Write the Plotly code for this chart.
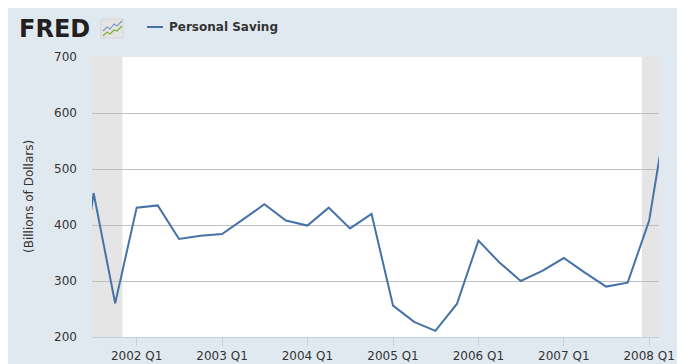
import plotly.graph_objects as go

# ---- data ----
dates = ["2001-04-01", "2001-07-01", "2001-10-01",
         "2002-01-01", "2002-04-01", "2002-07-01", "2002-10-01",
         "2003-01-01", "2003-04-01", "2003-07-01", "2003-10-01",
         "2004-01-01", "2004-04-01", "2004-07-01", "2004-10-01",
         "2005-01-01", "2005-04-01", "2005-07-01", "2005-10-01",
         "2006-01-01", "2006-04-01", "2006-07-01", "2006-10-01",
         "2007-01-01", "2007-04-01", "2007-07-01", "2007-10-01",
         "2008-01-01", "2008-04-01"]
personal_saving = [200, 457, 260,
                   431, 435, 375, 381,
                   384, 410, 437, 408,
                   399, 431, 394, 420,
                   256, 227, 211, 259,
                   372, 333, 300, 318,
                   341, 315, 290, 297,
                   408, 640]
tick_dates = ["2002-01-01", "2003-01-01", "2004-01-01", "2005-01-01",
              "2006-01-01", "2007-01-01", "2008-01-01"]
tick_labels = ["2002 Q1", "2003 Q1", "2004 Q1", "2005 Q1",
               "2006 Q1", "2007 Q1", "2008 Q1"]
recessions = [("2001-03-01", "2001-11-01"), ("2007-12-01", "2009-06-01")]
series_name = "Personal Saving"
y_title = "(Billions of Dollars)"

# page body margin offsets the figure by 8px; coordinates below are screen px
OFF = 8
W, H = 671, 356
L, R, T, B = 92, 659, 57, 337
PANEL = "#e1e9f0"
FONT = "DejaVu Sans"


def px(x):
    return (x - L) / (R - L)


def py(y):
    return (B - y) / (B - T)


fig = go.Figure()
fig.add_trace(go.Scatter(
    x=dates, y=personal_saving, mode="lines", name=series_name,
    line=dict(color="#4572a7", width=2), showlegend=False,
    hoverinfo="x+y"))

shapes = []
for s, e in recessions:
    shapes.append(dict(type="rect", xref="x", yref="paper", x0=s, x1=e,
                       y0=0, y1=1, fillcolor="#e5e5e5", line=dict(width=0),
                       layer="below"))
# logo icon
shapes.append(dict(type="rect", xref="paper", yref="paper", x0=px(101), x1=px(123),
                   y0=py(38), y1=py(19), fillcolor="#e4e4e4",
                   line=dict(color="#d6d6d6", width=1)))


def path(points):
    return "M " + " L ".join(f"{px(a)},{py(b)}" for a, b in points)


shapes.append(dict(type="path", xref="paper", yref="paper",
                   path=path([(103, 31), (107, 27), (110, 29), (114, 24),
                              (117, 26), (122, 21)]),
                   line=dict(color="#7a9cc0", width=1.2)))
shapes.append(dict(type="path", xref="paper", yref="paper",
                   path=path([(103, 36), (107, 32), (110, 34), (114, 30),
                              (117, 31), (122, 26)]),
                   line=dict(color="#7fae3c", width=1.2)))
# legend line
shapes.append(dict(type="line", xref="paper", yref="paper", x0=px(147), x1=px(163),
                   y0=py(27), y1=py(27), line=dict(color="#4572a7", width=2)))

annotations = [
    dict(text="<b>FRED</b>", x=px(17), y=py(29), xref="paper", yref="paper",
         xanchor="left", yanchor="middle", showarrow=False,
         font=dict(family=FONT, size=24, color="#231f20")),
    dict(text=f"<b>{series_name}</b>", x=px(167), y=py(27), xref="paper", yref="paper",
         xanchor="left", yanchor="middle", showarrow=False,
         font=dict(family=FONT, size=12, color="#333333")),
    dict(text=y_title, x=px(29), y=0.5, xref="paper", yref="paper",
         xanchor="center", yanchor="middle", showarrow=False, textangle=-90,
         font=dict(family=FONT, size=12, color="#333333")),
]

fig.update_layout(
    width=W, height=H,
    margin=dict(l=L - OFF, r=W - (R - OFF), t=T - OFF, b=H - (B - OFF), pad=0,
                autoexpand=False),
    paper_bgcolor=PANEL, plot_bgcolor="white",
    font=dict(family=FONT, size=12, color="#333333"),
    shapes=shapes, annotations=annotations, showlegend=False,
    xaxis=dict(type="date", range=["2001-06-24", "2008-02-12"],
               tickvals=tick_dates, ticktext=tick_labels,
               showgrid=False, zeroline=False, automargin=False,
               showline=True, linecolor="#c0d0e0", linewidth=1,
               ticks="outside", ticklen=8, tickcolor="#c0d0e0", tickwidth=1,
               tickfont=dict(family=FONT, size=12, color="#333333")),
    yaxis=dict(range=[200, 700], tickvals=[200, 300, 400, 500, 600, 700],
               showgrid=True, gridcolor="#c0c0c0", gridwidth=1,
               zeroline=False, showline=False, ticks="", automargin=False,
               ticklabelstandoff=14,
               tickfont=dict(family=FONT, size=12, color="#333333")),
)

fig.write_html("out.html")
